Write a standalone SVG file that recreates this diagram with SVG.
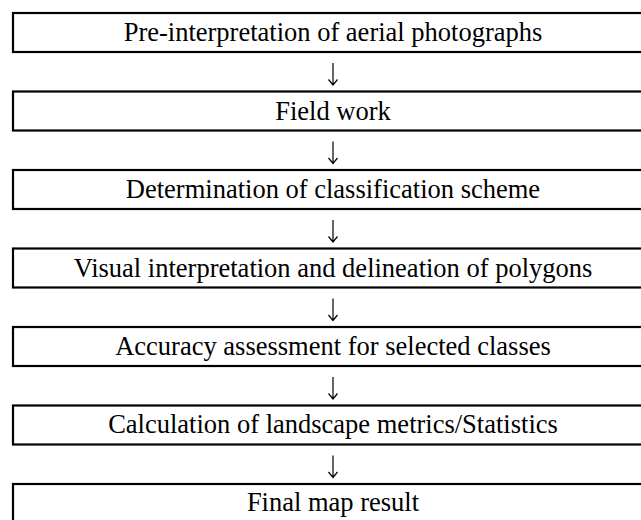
<svg xmlns="http://www.w3.org/2000/svg" width="641" height="520" viewBox="0 0 641 520">
<defs>
<path id="arr" d="M0,0 V22 M-4.5,16.5 L0,22 L4.5,16.5" fill="none" stroke="#000" stroke-width="1.2"/>
</defs>
<style>
.box{fill:#fff;stroke:#000;stroke-width:2.2}
.t{font-family:"Liberation Serif","Times New Roman",serif;font-size:26.5px;fill:#000;text-anchor:middle}
</style>
<rect width="641" height="520" fill="#fff"/>
<g id="connectors">
<use href="#arr" x="333" y="63"/>
<use href="#arr" x="333" y="141.5"/>
<use href="#arr" x="333" y="220"/>
<use href="#arr" x="333" y="298.5"/>
<use href="#arr" x="333" y="377"/>
<use href="#arr" x="333" y="455.5"/>
</g>
<g id="n1"><rect class="box" x="13" y="13" width="640" height="39"/><text class="t" x="333" y="41">Pre-interpretation of aerial photographs</text></g>
<g id="n2"><rect class="box" x="13" y="91.5" width="640" height="39"/><text class="t" x="333" y="119.5">Field work</text></g>
<g id="n3"><rect class="box" x="13" y="170" width="640" height="39"/><text class="t" x="333" y="198">Determination of classification scheme</text></g>
<g id="n4"><rect class="box" x="13" y="248.5" width="640" height="39"/><text class="t" x="333" y="276.5">Visual interpretation and delineation of polygons</text></g>
<g id="n5"><rect class="box" x="13" y="327" width="640" height="39"/><text class="t" x="333" y="355">Accuracy assessment for selected classes</text></g>
<g id="n6"><rect class="box" x="13" y="405.5" width="640" height="39"/><text class="t" x="333" y="433">Calculation of landscape metrics/Statistics</text></g>
<g id="n7"><rect class="box" x="13" y="484" width="640" height="39"/><text class="t" x="333" y="511">Final map result</text></g>
</svg>
